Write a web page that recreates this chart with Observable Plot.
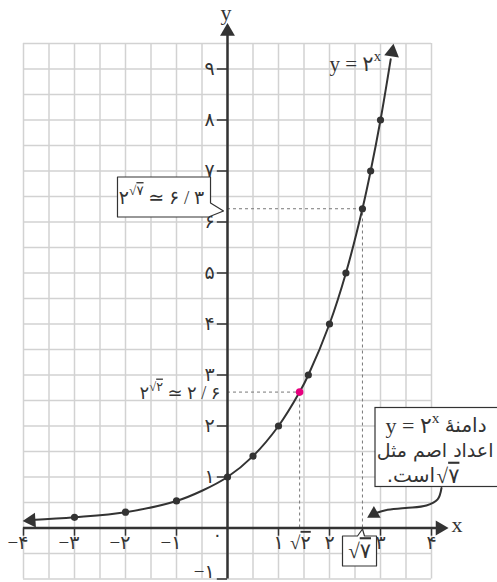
<!DOCTYPE html>
<html>
<head>
<meta charset="utf-8">
<script src="https://cdn.jsdelivr.net/npm/d3@7"></script>
<script src="https://cdn.jsdelivr.net/npm/@observablehq/plot@0.6"></script>
<style>
  html, body { margin: 0; padding: 0; background: #fff; }
  svg { display: block; }
</style>
</head>
<body>
<div id="chart"></div>
<script>
// ---- data ----
const gridXs = [-4,-3.5,-3,-2.5,-2,-1.5,-1,-0.5,0,0.5,1,1.5,2,2.5,3,3.5,4];
const gridYs = [-1,-0.5,0,0.5,1,1.5,2,2.5,3,3.5,4,4.5,5,5.5,6,6.5,7,7.5,8,8.5,9,9.5];

const curveX = [-3.85,-3,-2,-1,-0.5,0,0.5,1,1.414,1.585,2,2.322,2.646,2.807,3,3.2];
const curveY = [0.155,0.21,0.31,0.53,0.73,1,1.41,2,2.665,3,4,5,6.26,7,8,9.19];

const dotX = [-3,-2,-1,0,0.5,1,1.585,2,2.322,2.646,2.807,3];
const dotY = [0.21,0.31,0.53,1,1.41,2,3,4,5,6.26,7,8];

const pinkX = [1.414];
const pinkY = [2.665];

const dashX = [1.414, 2.646];
const dashY = [2.665, 6.26];

const yTicks = [-1,1,2,3,4,5,6,7,8,9];
const yLabels = ["−۱","۱","۲","۳","۴","۵","۶","۷","۸","۹"];
const xNegTicks = [-4,-3,-2,-1];
const xNegLabels = ["−۴","−۳","−۲","−۱"];
const xPosTicks = [1,2,3,4];
const xPosLabels = ["۱","۲","۳","۴"];

// ---- derived tables ----
const curve = curveX.map((x, i) => ({x, y: curveY[i]}));
const dots = dotX.map((x, i) => ({x, y: dotY[i]}));
const pink = pinkX.map((x, i) => ({x, y: pinkY[i]}));
const dashes = dashX.map((x, i) => ({x, y: dashY[i]}));
const yT = yTicks.map((v, i) => ({v, label: yLabels[i], y: v === -1 ? -0.86 : v}));
const xNeg = xNegTicks.map((v, i) => ({v, label: xNegLabels[i]}));
const xPos = xPosTicks.map((v, i) => ({v, label: xPosLabels[i]}));

const box1 = [[-2.157,6.882],[-0.333,6.882],[-0.333,6.373],[-0.078,6.216],[-0.373,6.098],[-2.157,6.098],[-2.157,6.882]].map(([x,y])=>({x,y}));
const box3 = [[2.255,-0.157],[2.549,-0.157],[2.647,-0.02],[2.686,-0.157],[2.922,-0.157],[2.922,-0.745],[2.255,-0.745],[2.255,-0.157]].map(([x,y])=>({x,y}));
const noteArrow = [[4.196,0.784],[4.12,0.56],[3.90,0.44],[3.49,0.39],[3.10,0.35],[2.93,0.30]].map(([x,y])=>({x,y}));

const INK = "#333";
const SERIF = "'Liberation Serif', 'DejaVu Sans', serif";
const FA = "'DejaVu Sans', 'Liberation Serif', sans-serif";

const chart = Plot.plot({
  width: 497,
  height: 582,
  marginLeft: 23,
  marginRight: 66,
  marginTop: 43,
  marginBottom: 3.5,
  x: {domain: [-4, 4], axis: null},
  y: {domain: [-1, 9.5], axis: null},
  style: {fontFamily: SERIF, background: "white"},
  marks: [
    // grid
    Plot.ruleX(gridXs, {stroke: "#d2d2d2", strokeWidth: 1.5}),
    Plot.ruleY(gridYs, {stroke: "#d2d2d2", strokeWidth: 1.5}),
    // dashed guides
    Plot.ruleY(dashes, {y: "y", x1: 0, x2: "x", stroke: "#777", strokeWidth: 1, strokeDasharray: "3,3"}),
    Plot.ruleX(dashes, {x: "x", y1: 0, y2: "y", stroke: "#777", strokeWidth: 1, strokeDasharray: "3,3"}),
    // axes
    Plot.ruleX([0], {y1: -1, y2: 9.7, stroke: INK, strokeWidth: 2.5}),
    Plot.ruleY([0], {x1: -4, x2: 4.15, stroke: INK, strokeWidth: 2.5}),
    Plot.dot([{x: 0, y: 9.735}], {x: "x", y: "y", symbol: "triangle", r: 5.5, fill: INK, stroke: null}),
    Plot.dot([{x: 4.167, y: 0}], {x: "x", y: "y", symbol: "triangle", r: 5.5, fill: INK, stroke: null, rotate: 90}),
    // axis ticks
    Plot.ruleY(yT, {y: "v", x1: -0.2, x2: 0, stroke: INK, strokeWidth: 1.5}),
    Plot.ruleX([...xNeg, ...xPos], {x: "v", y1: -0.16, y2: 0, stroke: INK, strokeWidth: 1.5}),
    // curve
    Plot.line(curve, {x: "x", y: "y", curve: "catmull-rom", stroke: INK, strokeWidth: 2}),
    Plot.dot([{x: -3.85, y: 0.147}], {x: "x", y: "y", symbol: "triangle", r: 5.5, fill: INK, stroke: null, rotate: -94}),
    Plot.dot([{x: 3.23, y: 9.33}], {x: "x", y: "y", symbol: "triangle", r: 5.5, fill: INK, stroke: null, rotate: 8.6}),
    Plot.dot(dots, {x: "x", y: "y", r: 3.6, fill: INK, stroke: null}),
    Plot.dot(pink, {x: "x", y: "y", r: 3.8, fill: "#e6007e", stroke: null}),
    // tick labels
    Plot.text(yT, {x: -0.25, y: "y", text: "label", textAnchor: "end", fontSize: 19, fontFamily: SERIF, fill: INK}),
    Plot.text(xNeg, {x: "v", y: -0.29, text: "label", textAnchor: "end", dx: 5, fontSize: 19, fontFamily: SERIF, fill: INK}),
    Plot.text(xPos, {x: "v", y: -0.29, text: "label", textAnchor: "middle", fontSize: 19, fontFamily: SERIF, fill: INK}),
    Plot.text(["۰"], {x: -0.2, y: -0.15, text: d => d, textAnchor: "middle", fontSize: 18, fontFamily: SERIF, fill: INK}),
    Plot.text(["√۲"], {x: 1.43, y: -0.29, text: d => d, textAnchor: "middle", fontSize: 19, fontFamily: SERIF, fill: INK}),
    // axis names
    Plot.text(["y"], {x: -0.03, y: 10.1, text: d => d, fontSize: 22, fontFamily: SERIF, fill: INK}),
    Plot.text(["x"], {x: 4.5, y: 0.06, text: d => d, fontSize: 22, fontFamily: SERIF, fill: INK}),
    // curve label
    Plot.text(["y = ۲^{x}"], {x: 2.0, y: 9.1, text: d => d, textAnchor: "start", fontSize: 21, fontFamily: SERIF, fill: INK}),
    // annotation: 2^sqrt2
    Plot.text(["۲^{√۲} ≃ ۲ / ۶"], {x: -0.14, y: 2.64, text: d => d, textAnchor: "end", fontSize: 18, fontFamily: SERIF, fill: INK}),
    // box 1
    Plot.line(box1, {x: "x", y: "y", stroke: INK, strokeWidth: 1.2, fill: "white"}),
    Plot.text(["۲^{√۷} ≃ ۶ / ۳"], {x: -2.13, y: 6.47, text: d => d, textAnchor: "start", fontSize: 19, fontFamily: SERIF, fill: INK}),
    // box 3
    Plot.line(box3, {x: "x", y: "y", stroke: INK, strokeWidth: 1.2, fill: "white"}),
    Plot.text(["√۷"], {x: 2.59, y: -0.46, text: d => d, textAnchor: "middle", fontSize: 21, fontFamily: SERIF, fill: INK}),
    // box 2 (note)
    Plot.rect([0], {x1: 2.902, x2: 5.4, y1: 0.804, y2: 2.353, stroke: INK, strokeWidth: 1.2, fill: "white"}),
    Plot.text(["دامنهٔ"], {x: 5.08, y: 2.0, text: d => d, textAnchor: "end", fontSize: 20, fontFamily: FA, fill: INK}),
    Plot.text(["y = ۲^{x}"], {x: 3.1, y: 2.0, text: d => d, textAnchor: "start", fontSize: 22, fontFamily: SERIF, fill: INK}),
    Plot.text(["اعداد اصم مثل"], {x: 4.07, y: 1.51, text: d => d, textAnchor: "middle", fontSize: 19, fontFamily: FA, fill: INK}),
    Plot.text(["√۷"], {x: 4.1, y: 1.02, text: d => d, textAnchor: "start", fontSize: 21, fontFamily: SERIF, fill: INK}),
    Plot.text(["\u202Bاست.\u202C"], {x: 4.07, y: 1.02, text: d => d, textAnchor: "end", fontSize: 20, fontFamily: FA, fill: INK}),
    Plot.line(noteArrow, {x: "x", y: "y", curve: "catmull-rom", stroke: INK, strokeWidth: 2}),
    Plot.dot([{x: 2.87, y: 0.278}], {x: "x", y: "y", symbol: "triangle", r: 5, fill: INK, stroke: null, rotate: -120})
  ]
});

document.getElementById("chart").appendChild(chart);

// rich text: ^{...} superscripts and √d radicals with a vinculum
const NS = "http://www.w3.org/2000/svg";
function build(parent, s) {
  const re = /\^\{([^}]*)\}|√(.)|([^\^√]+)/g;
  let m, needReset = false;
  while ((m = re.exec(s))) {
    if (m[1] !== undefined) {
      const sup = document.createElementNS(NS, "tspan");
      sup.setAttribute("font-size", "70%");
      sup.setAttribute("dy", "-0.68em");
      build(sup, m[1]);
      parent.appendChild(sup);
      needReset = true;
    } else {
      const span = document.createElementNS(NS, "tspan");
      if (needReset) { span.setAttribute("dy", "0.476em"); needReset = false; }
      if (m[2] !== undefined) {
        const r = document.createElementNS(NS, "tspan");
        r.textContent = "√";
        span.appendChild(r);
        const d = document.createElementNS(NS, "tspan");
        d.textContent = m[2];
        d.setAttribute("style", "text-decoration: overline");
        span.appendChild(d);
      } else {
        span.textContent = m[3];
      }
      parent.appendChild(span);
    }
  }
}
chart.querySelectorAll("text").forEach(t => {
  const s = t.textContent;
  if (!/[\^√]/.test(s)) return;
  t.textContent = "";
  build(t, s);
});
</script>
</body>
</html>
